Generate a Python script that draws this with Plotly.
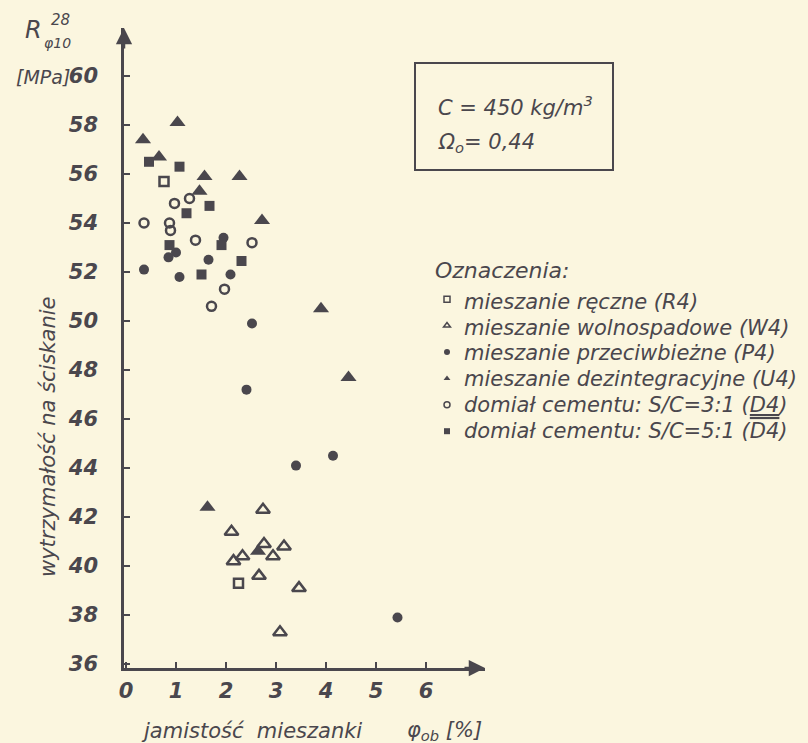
import plotly.graph_objects as go

INK = "#4a474d"
BG = "#fbf6df"
FONT = "DejaVu Sans"

# ---- data ----
r4_x = [0.76, 2.25]
r4_y = [55.7, 39.3]

w4_x = [2.74, 2.11, 2.76, 3.16, 2.94, 2.33, 2.15, 2.66, 3.46, 3.08]
w4_y = [42.3, 41.4, 40.9, 40.8, 40.4, 40.4, 40.2, 39.6, 39.1, 37.3]

p4_x = [0.36, 1.00, 0.85, 1.07, 2.09, 1.65, 1.95, 2.52, 2.41, 3.40, 4.14, 5.43]
p4_y = [52.1, 52.8, 52.6, 51.8, 51.9, 52.5, 53.4, 49.9, 47.2, 44.1, 44.5, 37.9]

u4_x = [0.34, 1.03, 0.66, 1.57, 2.27, 1.47, 2.72, 3.90, 4.45, 1.63, 2.64]
u4_y = [57.4, 58.1, 56.7, 55.9, 55.9, 55.3, 54.1, 50.5, 47.7, 42.4, 40.6]

d31_x = [0.36, 0.87, 0.89, 0.97, 1.27, 1.39, 2.52, 1.97, 1.71]
d31_y = [54.0, 54.0, 53.7, 54.8, 55.0, 53.3, 53.2, 51.3, 50.6]

d51_x = [0.46, 1.07, 1.67, 1.21, 0.87, 1.91, 2.31, 1.51]
d51_y = [56.5, 56.3, 54.7, 54.4, 53.1, 53.1, 52.45, 51.9]

x_ticks = [0, 1, 2, 3, 4, 5, 6]
y_ticks = list(range(36, 61, 2))

legend_title = "Oznaczenia:"
legend_names = [
    "mieszanie ręczne (R4)",
    "mieszanie wolnospadowe (W4)",
    "mieszanie przeciwbieżne (P4)",
    "mieszanie dezintegracyjne (U4)",
    "domiał cementu: S/C=3:1 (<span style='text-decoration:underline'>D4</span>)",
    "domiał cementu: S/C=5:1 (<span style='text-decoration:overline'>D4</span>)",
]

series = [
    (r4_x, r4_y, "square-open", 9),
    (w4_x, w4_y, "triangle-up-open", 12),
    (p4_x, p4_y, "circle", 10),
    (u4_x, u4_y, "triangle-up", 14),
    (d31_x, d31_y, "circle-open", 9),
    (d51_x, d51_y, "square", 10),
]

# plot-area geometry in page pixels
L, R, T, B = 124, 485, 28, 668
W, H = 808, 743

fig = go.Figure()
for (xs, ys, sym, sz), name in zip(series, legend_names):
    open_ = sym.endswith("open")
    fig.add_trace(go.Scatter(
        x=xs, y=ys, mode="markers", showlegend=False, name=name,
        marker=dict(symbol=sym, size=sz, color=INK,
                    line=dict(color=INK, width=2.5 if open_ else 0)),
    ))
# legend glyphs (legend text itself drawn by annotations for spacing control)
for (xs, ys, sym, sz), name in zip(series, legend_names):
    open_ = sym.endswith("open")
    fig.add_trace(go.Scatter(
        x=[None], y=[None], mode="markers", name=" ",
        marker=dict(symbol=sym, size=6, color=INK,
                    line=dict(color=INK, width=1.5 if open_ else 0)),
    ))

tickfont = dict(family=FONT, size=21, color=INK, style="italic", weight="bold")

fig.update_layout(
    width=W, height=H,
    paper_bgcolor=BG, plot_bgcolor=BG,
    margin=dict(l=L, r=W - R, t=T, b=H - B),
    showlegend=True,
    legend=dict(
        x=(427 - L) / (R - L), y=(B - 281) / (B - T), xanchor="left", yanchor="top",
        bgcolor="rgba(0,0,0,0)",
        font=dict(family=FONT, size=18, color="rgba(0,0,0,0)"),
        itemwidth=30, tracegroupgap=0,
    ),
    xaxis=dict(
        range=[-0.04, 7.18], tickvals=x_ticks, ticks="inside", ticklen=6,
        tickwidth=2, tickcolor=INK, showline=True, linewidth=2.5, linecolor=INK,
        showgrid=False, zeroline=False, tickfont=tickfont, ticklabelstandoff=2,
    ),
    yaxis=dict(
        range=[35.84, 61.96], tickvals=y_ticks, ticks="inside", ticklen=6,
        tickwidth=2, tickcolor=INK, showline=True, linewidth=2.5, linecolor=INK,
        showgrid=False, zeroline=False, tickfont=tickfont, ticklabelstandoff=19,
    ),
)

# axis arrows
fig.add_annotation(x=1, y=0, xref="paper", yref="paper", ax=-22, ay=0,
                   text="", showarrow=True, arrowhead=2, arrowsize=1.3,
                   arrowwidth=2.5, arrowcolor=INK)
fig.add_annotation(x=0, y=1, xref="paper", yref="paper", ax=0, ay=22,
                   text="", showarrow=True, arrowhead=2, arrowsize=1.3,
                   arrowwidth=2.5, arrowcolor=INK)

def px2paper(px, py):
    return (px - L) / float(R - L), (B - py) / float(B - T)

def ann(text, px, py, size=20, xanchor="left", angle=0, weight="normal"):
    x, y = px2paper(px, py)
    fig.add_annotation(x=x, y=y, xref="paper", yref="paper", text=text,
                       showarrow=False, xanchor=xanchor, yanchor="middle",
                       textangle=angle,
                       font=dict(family=FONT, size=size, color=INK,
                                 style="italic", weight=weight))

# info box
x0, y0 = px2paper(415, 170)
x1, y1 = px2paper(613, 63)
fig.add_shape(type="rect", xref="paper", yref="paper", x0=x0, y0=y0, x1=x1, y1=y1,
              line=dict(color=INK, width=2))
ann("C = 450 kg/m<sup>3</sup>", 436, 106, size=21)
ann("Ω<sub>o</sub>= 0,44", 436, 143, size=21)

# legend texts
ann(legend_title, 433, 270, size=22)
legend_rows = [302, 328, 353, 379, 405, 431]
for name, py in zip(legend_names, legend_rows):
    ann(name, 462, py, size=21)

# axis titles
ann("wytrzymałość na ściskanie", 48, 437, size=21, xanchor="center", angle=-90)
ann("R", 44, 30, size=24, xanchor="right")
ann("28", 49, 20, size=15)
ann("φ10", 42, 43, size=14)
ann("[MPa]", 72, 77, size=19, xanchor="right")
ann("jamistość  mieszanki", 139, 731, size=21)
ann("φ<sub>ob</sub> [%]", 405, 731, size=21)

fig.write_html(
    "out.html",
    config={"displayModeBar": False},
    post_script="document.body.style.margin='0';document.body.style.background='%s';" % BG,
)
